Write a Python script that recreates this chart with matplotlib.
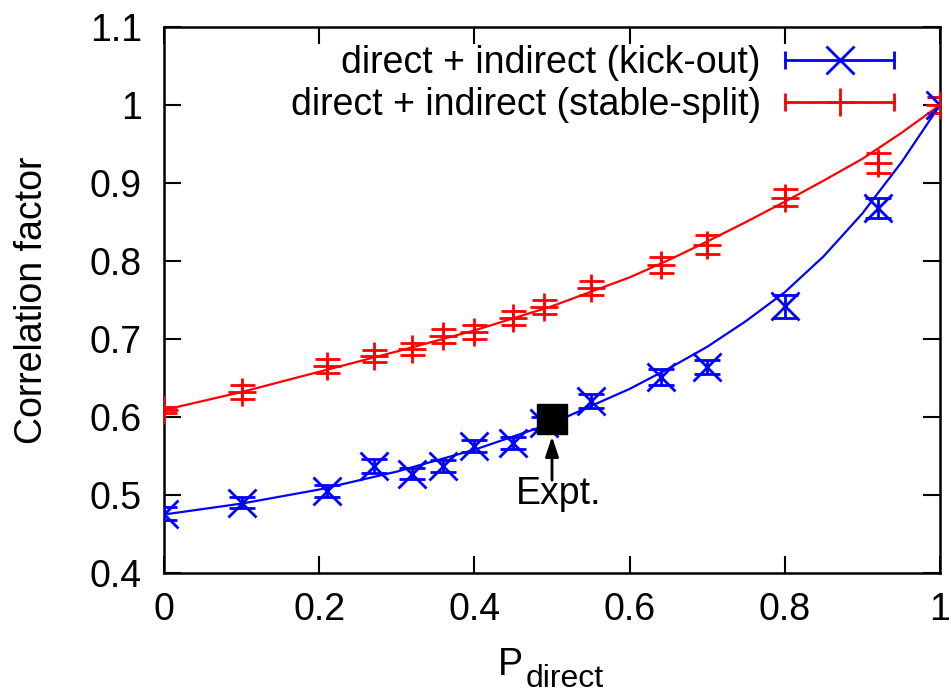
import matplotlib
matplotlib.use('Agg')
import matplotlib.pyplot as plt
from matplotlib.lines import Line2D
from matplotlib.legend_handler import HandlerLine2D, HandlerTuple

plt.rcParams['font.family'] = ['Liberation Sans', 'DejaVu Sans']

# ---- data ----
p_direct = [0.0, 0.10, 0.21, 0.27, 0.32, 0.36, 0.40, 0.45, 0.49, 0.55, 0.64, 0.70, 0.80, 0.92, 1.0]
kick_out = [0.476, 0.490, 0.505, 0.537, 0.527, 0.537, 0.563, 0.567, 0.592, 0.620, 0.651, 0.664, 0.742, 0.868, 1.0]
kick_err = [0.008, 0.007, 0.008, 0.009, 0.007, 0.008, 0.008, 0.008, 0.008, 0.009, 0.010, 0.009, 0.015, 0.013, 0.010]
stable = [0.609, 0.632, 0.665, 0.678, 0.687, 0.704, 0.709, 0.727, 0.741, 0.765, 0.795, 0.821, 0.881, 0.926, 1.0]
stable_err = [0.004, 0.009, 0.009, 0.008, 0.008, 0.009, 0.009, 0.009, 0.009, 0.009, 0.010, 0.012, 0.011, 0.013, 0.010]

fit_x = [0.0, 0.1, 0.2, 0.3, 0.4, 0.5, 0.6, 0.65, 0.7, 0.75, 0.8, 0.85, 0.9, 0.95, 1.0]
fit_kick = [0.475, 0.489, 0.507, 0.530, 0.558, 0.592, 0.636, 0.662, 0.690, 0.723, 0.760, 0.806, 0.861, 0.926, 1.0]
fit_stable = [0.609, 0.632, 0.658, 0.684, 0.711, 0.742, 0.779, 0.801, 0.825, 0.850, 0.876, 0.903, 0.931, 0.964, 1.0]

expt_x = [0.5]
expt_y = [0.598]

x_ticks = [0, 0.2, 0.4, 0.6, 0.8, 1.0]
x_tick_labels = ['0', '0.2', '0.4', '0.6', '0.8', '1']
y_ticks = [0.4, 0.5, 0.6, 0.7, 0.8, 0.9, 1.0, 1.1]
y_tick_labels = ['0.4', '0.5', '0.6', '0.7', '0.8', '0.9', '1', '1.1']

BLUE = '#0000ff'
RED = '#ff0000'
FS = 27

fig = plt.figure(figsize=(9.51, 6.95), dpi=100)
ax = fig.add_axes([164 / 951, 1 - 573 / 695, 776 / 951, 546 / 695])

ax.plot(fit_x, fit_kick, color=BLUE, lw=1.6, zorder=2)
ax.plot(fit_x, fit_stable, color=RED, lw=1.6, zorder=2)

ax.errorbar(p_direct, kick_out, yerr=kick_err, fmt='x', color=BLUE, ms=20, mew=2,
            elinewidth=2, capsize=9.5, capthick=2, zorder=3)
ax.errorbar(p_direct, stable, yerr=stable_err, fmt='+', color=RED, ms=20, mew=2,
            elinewidth=2, capsize=9, capthick=2, zorder=3)

ax.plot(expt_x, expt_y, 's', color='black', ms=21, zorder=5)
ax.annotate('', xy=(0.5, 0.575), xytext=(0.5, 0.519),
            arrowprops=dict(arrowstyle='-|>,head_length=0.6,head_width=0.2', color='black',
                            lw=2, mutation_scale=20, shrinkA=0, shrinkB=0), zorder=5)
ax.text(0.508, 0.501, 'Expt.', ha='center', va='center', fontsize=FS)

ax.set_xlim(0, 1)
ax.set_ylim(0.4, 1.1)
ax.set_xticks(x_ticks)
ax.set_xticklabels(x_tick_labels)
ax.set_yticks(y_ticks)
ax.set_yticklabels(y_tick_labels)
ax.tick_params(direction='in', length=12, width=1.5, top=True, right=True, labelsize=FS)
ax.tick_params(axis='x', pad=14)
ax.tick_params(axis='y', pad=16)
for s in ax.spines.values():
    s.set_linewidth(1.8)

fig.text(32 / 951, 0.5 * ((1 - 573 / 695) + (1 - 27 / 695)), 'Correlation factor',
         rotation=90, ha='center', va='center', fontsize=FS)
fig.text(523 / 951, 1 - 675 / 695, 'P', ha='right', va='baseline', fontsize=FS)
fig.text(526 / 951, 1 - 687 / 695, 'direct', ha='left', va='baseline', fontsize=23)

# legend handles in gnuplot style
kc = Line2D([], [], color=BLUE, lw=2, marker='x', ms=20, mew=2)
kb = Line2D([], [], color=BLUE, ls='none', marker='|', ms=13, mew=2)
sc = Line2D([], [], color=RED, lw=2, marker='+', ms=20, mew=2)
sb = Line2D([], [], color=RED, ls='none', marker='|', ms=13, mew=2)
hmap = {tuple: HandlerTuple(ndivide=1, pad=0),
        kc: HandlerLine2D(numpoints=1), sc: HandlerLine2D(numpoints=1),
        kb: HandlerLine2D(numpoints=2, marker_pad=0), sb: HandlerLine2D(numpoints=2, marker_pad=0)}
leg = ax.legend([(kc, kb), (sc, sb)],
                ['direct + indirect (kick-out)', 'direct + indirect (stable-split)'],
                handler_map=hmap, loc='upper right', bbox_to_anchor=(894 / 951, 1 - 45 / 695),
                bbox_transform=fig.transFigure, frameon=False, markerfirst=False,
                fontsize=FS, handlelength=2.9, handletextpad=0.65, labelspacing=0.16,
                borderaxespad=0, borderpad=0)

fig.savefig('out.png', dpi=100)
